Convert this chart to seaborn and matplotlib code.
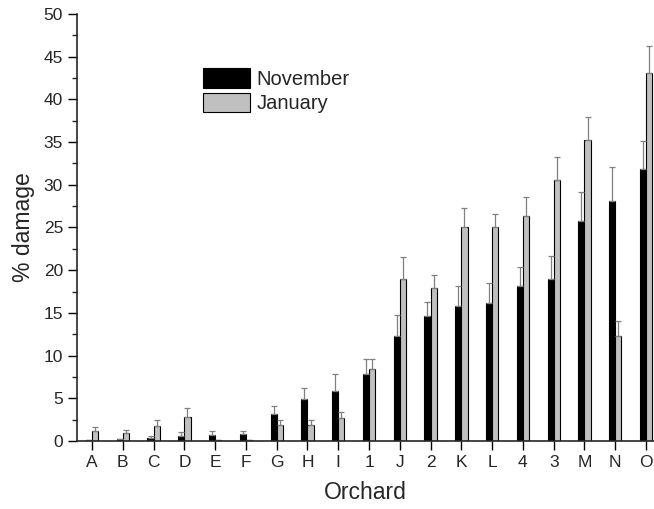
import matplotlib
matplotlib.use("Agg")
import matplotlib.pyplot as plt
from matplotlib.ticker import MultipleLocator
import seaborn as sns
import pandas as pd

# Values
orchards = ["A", "B", "C", "D", "E", "F", "G", "H", "I", "1",
            "J", "2", "K", "L", "4", "3", "M", "N", "O"]
november = [0.1, 0.25, 0.35, 0.6, 0.7, 0.8, 3.2, 4.95, 5.85, 7.8,
            12.3, 14.6, 15.8, 16.2, 18.2, 19.0, 25.7, 28.1, 31.9]
november_err = [0.0, 0.0, 0.25, 0.5, 0.45, 0.4, 0.95, 1.3, 2.05, 1.85,
                2.4, 1.7, 2.4, 2.35, 2.2, 2.7, 3.5, 4.0, 3.2]
january = [1.15, 0.9, 1.75, 2.85, 0.1, 0.1, 1.9, 1.9, 2.7, 8.4,
           19.0, 17.9, 25.1, 25.1, 26.3, 30.6, 35.2, 12.3, 43.1]
january_err = [0.45, 0.4, 0.7, 1.0, 0.0, 0.0, 0.5, 0.55, 0.75, 1.25,
               2.6, 1.55, 2.2, 1.45, 2.3, 2.65, 2.7, 1.7, 3.1]
months = ["November", "January"]

df = pd.DataFrame({
    "Orchard": orchards * 2,
    "damage": november + january,
    "err": november_err + january_err,
    "Month": ["November"] * len(orchards) + ["January"] * len(orchards),
})

sns.set_style("ticks")
plt.rcParams["font.family"] = ["Liberation Sans", "DejaVu Sans"]

fig = plt.figure(figsize=(6.54, 5.09), dpi=100)
ax = fig.add_axes([0.1177, 0.1336, 0.8823, 0.839])

sns.barplot(
    data=df, x="Orchard", y="damage", hue="Month",
    order=orchards, hue_order=months,
    palette=["#000000", "#c0c0c0"], width=0.4,
    edgecolor="black", linewidth=0.8, errorbar=None, ax=ax,
)

# one-sided error bars on top of each bar
bar_patches = ax.patches[: 2 * len(orchards)]
for i, month in enumerate(months):
    sub = df[df["Month"] == month]
    bars = bar_patches[i * len(orchards):(i + 1) * len(orchards)]
    xs = [b.get_x() + b.get_width() / 2 for b in bars]
    ax.errorbar(xs, sub["damage"], yerr=[[0] * len(sub), sub["err"]],
                fmt="none", ecolor="#808080", elinewidth=0.9,
                capsize=2.5, capthick=0.9, zorder=1)

ax.set_ylim(0, 50)
ax.set_xlim(-0.49, 18.26)
ax.yaxis.set_major_locator(MultipleLocator(5))
ax.yaxis.set_minor_locator(MultipleLocator(2.5))
ax.tick_params(axis="both", which="major", labelsize=12.5, length=6.5,
               width=1, color="black", direction="out")
ax.tick_params(axis="y", which="minor", length=3.5, width=1)
ax.set_xlabel("Orchard", fontsize=16.5, labelpad=8)
ax.set_ylabel("% damage", fontsize=16.5, labelpad=6)

for side in ["top", "right"]:
    ax.spines[side].set_visible(False)
ax.spines["left"].set_linewidth(1.2)
ax.spines["bottom"].set_linewidth(1.2)

ax.legend(title=None, frameon=False, loc="upper left",
          bbox_to_anchor=(0.218, 0.873), fontsize=14.5,
          handlelength=2.35, handleheight=1.1, labelspacing=0.2,
          handletextpad=0.33, borderpad=0, borderaxespad=0)

fig.savefig("out.png", dpi=100)
